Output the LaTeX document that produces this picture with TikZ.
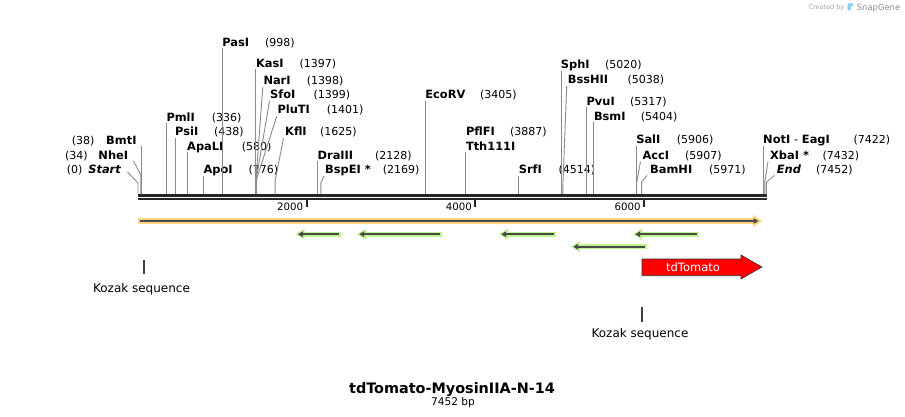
\documentclass[tikz,border=0pt]{standalone}
\usepackage{fontspec}
\setmainfont{DejaVu Sans}
\usetikzlibrary{arrows.meta}
\newcommand\fsz[1]{\fontsize{#1}{#1}\selectfont}
\definecolor{cutgray}{HTML}{8A8A8A}
\definecolor{mapdark}{HTML}{262626}
\definecolor{orhalo}{HTML}{FFD283}
\definecolor{grhalo}{HTML}{BDF48E}
\definecolor{coredark}{HTML}{4A4A4A}
\definecolor{tdred}{HTML}{FF0000}
\definecolor{sgblue}{HTML}{8CCBF2}
\begin{document}
\begin{tikzpicture}[x=1pt,y=-1pt,
  nm/.style={font=\fsz{11.4}\bfseries, inner sep=0pt, anchor=base west},
  nmR/.style={font=\fsz{11.4}\bfseries, inner sep=0pt, anchor=base east},
  num/.style={font=\fsz{11}, inner sep=0pt, anchor=base west},
  cut/.style={draw=cutgray, line width=0.9pt},
  mapline/.style={draw=mapdark},
  ticklab/.style={font=\fsz{10.2}, inner sep=0pt, anchor=base east},
  corearrow/.style={draw=coredark, line width=1.8pt, -{Triangle[length=5pt,width=5.5pt]}},
  kozak/.style={draw=black!75, line width=2pt},
  kozaklab/.style={font=\fsz{12}, inner sep=0pt, anchor=base}]
\useasboundingbox (0,0) rectangle (905,417);

% watermark
\node[font=\fsz{6.5}, text=black!35, inner sep=0pt, anchor=base west] (wm1) at (808.3,10) {Created by};
\fill[sgblue] (847.5,3.5) -- (853,3.5) -- (853,6.5) -- (850.5,6.5) -- (850.5,10.5) -- (847.5,10.5) -- cycle;
\node[font=\fsz{8.4}, text=black!45, inner sep=0pt, anchor=base west] (wm2) at (856.7,10.5) {SnapGene};

% ---------- map line ----------
\draw[mapline, line width=2.7pt] (138,195.3) -- (766.6,195.3);
\draw[mapline, line width=2.3pt] (138,199.2) -- (766.6,199.2);
\foreach \tx/\tl in {306.7/2000, 475.4/4000, 644.1/6000}{
  \draw[mapdark, line width=2pt] (\tx,200) -- (\tx,207);
  \node[ticklab] (t\tl) at (\tx-3.3,210.5) {\tl};
}

% ---------- left labels ----------
\node[nmR] (BmtI) at (136.7,145) {BmtI};
\node[num] (BmtIn) at (71.7,145) {(38)};
\draw[cut] (141.3,146.5) -- (141.3,194);
\node[nmR] (NheI) at (128.3,159.5) {NheI};
\node[num] (NheIn) at (65,159.5) {(34)};
\draw[cut] (133.5,161) -- (140.9,175) -- (140.9,194);
\node[nmR, font=\fsz{11.4}\bfseries\itshape] (Start) at (121,174) {Start};
\node[num] (Startn) at (66.7,174) {(0)};
\draw[cut] (127.5,172) -- (138,183) -- (138,194);

% ---------- right labels ----------
\node[nm] (PmlI) at (166.3,121.7) {PmlI};
\node[num] (PmlIn) at (211.7,121.7) {(336)};
\draw[cut] (166.3,123.5) -- (166.3,194);
\node[nm] (PsiI) at (175,136) {PsiI};
\node[num] (PsiIn) at (214,136) {(438)};
\draw[cut] (175,138) -- (175,194);
\node[nm] (ApaLI) at (187,150.7) {ApaLI};
\node[num] (ApaLIn) at (241.7,150.7) {(580)};
\draw[cut] (187,152.5) -- (187,194);
\node[nm] (ApoI) at (203.4,174) {ApoI};
\node[num] (ApoIn) at (248.3,174) {(776)};
\draw[cut] (203.4,176) -- (203.4,194);
\node[nm] (PasI) at (222.2,46.7) {PasI};
\node[num] (PasIn) at (265,46.7) {(998)};
\draw[cut] (222.2,48.5) -- (222.2,194);
\node[nm] (KasI) at (255.8,67.3) {KasI};
\node[num] (KasIn) at (299.3,67.3) {(1397)};
\draw[cut] (255.8,69) -- (255.8,194);
\node[nm] (NarI) at (263.3,85) {NarI};
\node[num] (NarIn) at (306.7,85) {(1398)};
\draw[cut] (262.8,87) -- (255.9,180) -- (255.9,194);
\node[nm] (SfoI) at (270,99) {SfoI};
\node[num] (SfoIn) at (313.3,99) {(1399)};
\draw[cut] (269.5,101) -- (256.1,180) -- (256.1,194);
\node[nm] (PluTI) at (277.3,114) {PluTI};
\node[num] (PluTIn) at (326.7,114) {(1401)};
\draw[cut] (276.8,116) -- (256.3,180) -- (256.3,194);
\node[nm] (KflI) at (285,136) {KflI};
\node[num] (KflIn) at (320,136) {(1625)};
\draw[cut] (283.5,138) -- (275.1,181) -- (275.1,194);
\node[nm] (DraIII) at (317.5,159.5) {DraIII};
\node[num] (DraIIIn) at (375,159.5) {(2128)};
\draw[cut] (317.5,161.5) -- (317.5,194);
\node[nm] (BspEI) at (325,174) {BspEI *};
\node[num] (BspEIn) at (382.7,174) {(2169)};
\draw[cut] (324,176) -- (320.9,183) -- (320.9,194);
\node[nm] (EcoRV) at (425.2,99) {EcoRV};
\node[num] (EcoRVn) at (480,99) {(3405)};
\draw[cut] (425.2,101) -- (425.2,194);
\node[nm] (PflFI) at (465.8,135.7) {PflFI};
\node[num] (PflFIn) at (510,135.7) {(3887)};
\node[nm] (Tth) at (465.8,150.7) {Tth111I};
\draw[cut] (465.8,152.5) -- (465.8,194);
\node[nm] (SrfI) at (518.7,174) {SrfI};
\node[num] (SrfIn) at (558.3,174) {(4514)};
\draw[cut] (518.7,176) -- (518.7,194);
\node[nm] (SphI) at (560.7,69) {SphI};
\node[num] (SphIn) at (605,69) {(5020)};
\draw[cut] (561.2,71) -- (561.2,194);
\node[nm] (BssHII) at (567.7,84) {BssHII};
\node[num] (BssHIIn) at (627.3,84) {(5038)};
\draw[cut] (566.7,86) -- (562.9,185) -- (562.9,194);
\node[nm] (PvuI) at (586.4,105.7) {PvuI};
\node[num] (PvuIn) at (630,105.7) {(5317)};
\draw[cut] (586.4,107.5) -- (586.4,194);
\node[nm] (BsmI) at (593.8,120.7) {BsmI};
\node[num] (BsmIn) at (640.7,120.7) {(5404)};
\draw[cut] (593.8,122.5) -- (593.8,194);
\node[nm] (SalI) at (636.1,144) {SalI};
\node[num] (SalIn) at (676.7,144) {(5906)};
\draw[cut] (636.1,146) -- (636.1,194);
\node[nm] (AccI) at (642.3,159.3) {AccI};
\node[num] (AccIn) at (685,159.3) {(5907)};
\draw[cut] (640.5,161.5) -- (636.6,183) -- (636.6,194);
\node[nm] (BamHI) at (650,174) {BamHI};
\node[num] (BamHIn) at (709,174) {(5971)};
\draw[cut] (647,175.5) -- (641.6,182) -- (641.6,194);
\node[nm] (NotI) at (763,144) {NotI\,\,{\mdseries -}\,\,EagI};
\node[num] (NotIn) at (853.3,144) {(7422)};
\draw[cut] (763.5,146) -- (763.5,194);
\node[nm] (XbaI) at (770,159.3) {XbaI *};
\node[num] (XbaIn) at (822.3,159.3) {(7432)};
\draw[cut] (768,161.5) -- (764.8,182) -- (764.8,194);
\node[nm, font=\fsz{11.4}\bfseries\itshape] (End) at (776.7,174) {End};
\node[num] (Endn) at (816,174) {(7452)};
\draw[cut] (774.5,175.5) -- (766.4,182) -- (766.4,194);

% ---------- features ----------
% orange full-length arrow
\fill[orhalo] (137.7,218.2) rectangle (754,223.8);
\fill[orhalo] (753,215) -- (762,221) -- (753,227) -- cycle;
\draw[corearrow] (140,221) -- (758.5,221);

% green leftward arrows
\foreach \a/\b/\y in {295.7/341/234.2, 357/441.7/234.2, 499/556/234.2, 633/699/234.2, 571/646.7/246.7}{
  \fill[grhalo] (\a+8,\y-2.7) rectangle (\b,\y+2.7);
  \fill[grhalo] (\a+9,\y-5.5) -- (\a,\y) -- (\a+9,\y+5.5) -- cycle;
  \draw[corearrow] (\b-2,\y) -- (\a+2.2,\y);
}

% tdTomato
\draw[fill=tdred, draw=black!80, line width=0.6pt] (642,259) -- (741,259) -- (741,255) -- (762,267) -- (741,279) -- (741,275.7) -- (642,275.7) -- cycle;
\node[font=\fsz{11.5}, text=white, inner sep=0pt, anchor=base] (tdT) at (693,271.2) {tdTomato};

% Kozak sequences
\draw[kozak] (143.5,259.5) -- (143.5,274);
\node[kozaklab] (koz1) at (141.5,292.5) {Kozak sequence};
\draw[kozak] (641.7,306.7) -- (641.7,321.5);
\node[kozaklab] (koz2) at (640,337.5) {Kozak sequence};

% title
\node[font=\fsz{14.4}\bfseries, inner sep=0pt, anchor=base] (title) at (452,393.5) {tdTomato-MyosinIIA-N-14};
\node[font=\fsz{10.6}, inner sep=0pt, anchor=base] (bp) at (453,405) {7452 bp};
\end{tikzpicture}
\end{document}
